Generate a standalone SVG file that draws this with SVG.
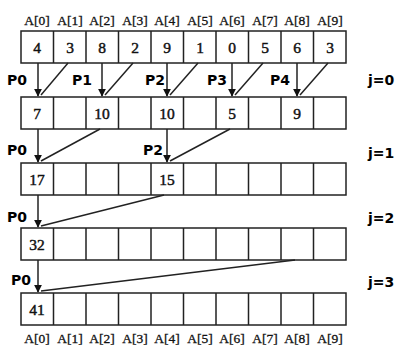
<svg xmlns="http://www.w3.org/2000/svg" width="400" height="347" viewBox="0 0 400 347">
<defs>
<style>
.cell{fill:#fff;stroke:#222;stroke-width:1.5}
.v{font-family:"Liberation Serif",serif;font-size:15.5px;fill:#111;stroke:#111;stroke-width:0.45;text-anchor:middle}
.lbl{font-family:"Liberation Serif",serif;font-size:13.5px;fill:#111;stroke:#111;stroke-width:0.3;text-anchor:middle}
.p{font-family:"DejaVu Sans",sans-serif;font-weight:bold;font-size:14px;fill:#000}
.c{stroke:#222;stroke-width:1.5;fill:none}
</style>
<marker id="ah" viewBox="0 0 10 10" refX="9" refY="5" markerWidth="8" markerHeight="8" orient="auto" markerUnits="userSpaceOnUse">
<path d="M0,0 L10,5 L0,10 z" fill="#111"/>
</marker>
<g id="row">
<rect class="cell" x="21" y="0" width="325" height="32"/>
<path class="c" d="M53.5,0v32M86,0v32M118.5,0v32M151,0v32M183.5,0v32M216,0v32M248.5,0v32M281,0v32M313.5,0v32"/>
</g>
</defs>
<g id="top-labels">
<text class="lbl" x="37" y="25">A[0]</text><text class="lbl" x="70" y="25">A[1]</text><text class="lbl" x="102" y="25">A[2]</text><text class="lbl" x="135" y="25">A[3]</text><text class="lbl" x="167" y="25">A[4]</text><text class="lbl" x="200" y="25">A[5]</text><text class="lbl" x="232" y="25">A[6]</text><text class="lbl" x="265" y="25">A[7]</text><text class="lbl" x="297" y="25">A[8]</text><text class="lbl" x="330" y="25">A[9]</text>
</g>
<g id="row0">
<use href="#row" y="31"/>
<text class="v" x="37" y="53">4</text><text class="v" x="70" y="53">3</text><text class="v" x="102" y="53">8</text><text class="v" x="135" y="53">2</text><text class="v" x="167" y="53">9</text><text class="v" x="200" y="53">1</text><text class="v" x="232" y="53">0</text><text class="v" x="265" y="53">5</text><text class="v" x="297" y="53">6</text><text class="v" x="330" y="53">3</text>
</g>
<g id="row1">
<use href="#row" y="97"/>
<text class="v" x="37" y="119">7</text><text class="v" x="102" y="119">10</text><text class="v" x="167" y="119">10</text><text class="v" x="232" y="119">5</text><text class="v" x="297" y="119">9</text>
</g>
<g id="row2">
<use href="#row" y="163"/>
<text class="v" x="37" y="185">17</text><text class="v" x="167" y="185">15</text>
</g>
<g id="row3">
<use href="#row" y="228"/>
<text class="v" x="37" y="250">32</text>
</g>
<g id="row4">
<use href="#row" y="293"/>
<text class="v" x="37" y="315">41</text>
</g>
<g id="bottom-labels">
<text class="lbl" x="37" y="343">A[0]</text><text class="lbl" x="70" y="343">A[1]</text><text class="lbl" x="102" y="343">A[2]</text><text class="lbl" x="135" y="343">A[3]</text><text class="lbl" x="167" y="343">A[4]</text><text class="lbl" x="200" y="343">A[5]</text><text class="lbl" x="232" y="343">A[6]</text><text class="lbl" x="265" y="343">A[7]</text><text class="lbl" x="297" y="343">A[8]</text><text class="lbl" x="330" y="343">A[9]</text>
</g>
<g id="connectors">
<line class="c" x1="38" y1="63" x2="38" y2="96" marker-end="url(#ah)"/>
<line class="c" x1="68" y1="63" x2="41" y2="95"/>
<line class="c" x1="102" y1="63" x2="102" y2="96" marker-end="url(#ah)"/>
<line class="c" x1="133" y1="63" x2="105" y2="95"/>
<line class="c" x1="167" y1="63" x2="167" y2="96" marker-end="url(#ah)"/>
<line class="c" x1="198" y1="63" x2="170" y2="95"/>
<line class="c" x1="232" y1="63" x2="232" y2="96" marker-end="url(#ah)"/>
<line class="c" x1="263" y1="63" x2="235" y2="95"/>
<line class="c" x1="297" y1="63" x2="297" y2="96" marker-end="url(#ah)"/>
<line class="c" x1="328" y1="63" x2="300" y2="95"/>
<line class="c" x1="38" y1="129" x2="38" y2="162" marker-end="url(#ah)"/>
<line class="c" x1="100" y1="129" x2="41" y2="161"/>
<line class="c" x1="167" y1="129" x2="167" y2="162" marker-end="url(#ah)"/>
<line class="c" x1="230" y1="129" x2="170" y2="161"/>
<line class="c" x1="38" y1="195" x2="38" y2="227" marker-end="url(#ah)"/>
<line class="c" x1="164" y1="195" x2="41" y2="226"/>
<line class="c" x1="38" y1="260" x2="38" y2="292" marker-end="url(#ah)"/>
<line class="c" x1="295" y1="260" x2="41" y2="291"/>
</g>
<g id="labels">
<text class="p" x="7" y="85">P0</text><text class="p" x="72" y="85">P1</text><text class="p" x="145" y="85">P2</text><text class="p" x="207" y="85">P3</text><text class="p" x="270" y="85">P4</text>
<text class="p" x="7" y="155">P0</text><text class="p" x="143" y="155">P2</text>
<text class="p" x="7" y="222">P0</text>
<text class="p" x="11" y="285">P0</text>
<text class="p" x="368" y="85">j=0</text><text class="p" x="368" y="158">j=1</text><text class="p" x="368" y="223">j=2</text><text class="p" x="368" y="287">j=3</text>
</g>
</svg>
